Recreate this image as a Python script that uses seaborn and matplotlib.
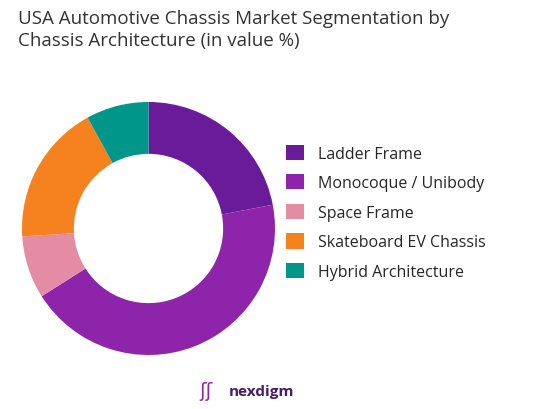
import matplotlib
matplotlib.use("Agg")
import seaborn as sns
from matplotlib import pyplot as plt

labels = ['Ladder Frame', 'Monocoque / Unibody', 'Space Frame', 'Skateboard EV Chassis', 'Hybrid Architecture']
values = [22, 44, 8, 18, 8]
colors = ['#6a1b9a', '#8e24aa', '#e38ca3', '#f5821f', '#00968a']

sns.set_style('white')
plt.rcParams['font.family'] = ['Open Sans', 'DejaVu Sans']

fig = plt.figure(figsize=(5.38, 4.10), dpi=100)
ax = fig.add_axes([22 / 538, 54 / 410, 253 / 538, 253 / 410])
wedges, _ = ax.pie(values, colors=colors, startangle=90, counterclock=False, radius=1.0,
                   wedgeprops=dict(width=0.41, edgecolor='white', linewidth=0))
ax.set_aspect('equal')
ax.set_xlim(-1, 1)
ax.set_ylim(-1, 1)

fig.legend(wedges, labels, loc='center left', bbox_to_anchor=(0.505, 0.48),
           frameon=False, fontsize=11.5, handlelength=1.1, handleheight=1.1,
           labelspacing=0.78, handletextpad=0.9)

fig.text(0.033, 0.975, 'USA Automotive Chassis Market Segmentation by\nChassis Architecture (in value %)',
         ha='left', va='top', fontsize=13.5, color='#333333', linespacing=1.3)
fig.text(0.425, 0.045, 'nexdigm', ha='left', va='center', fontsize=11, color='#4a1a6b', weight='bold')
fig.text(0.37, 0.045, 'ʃʃ', ha='left', va='center', fontsize=14, color='#8e24aa')

fig.savefig('out.png', dpi=100)
